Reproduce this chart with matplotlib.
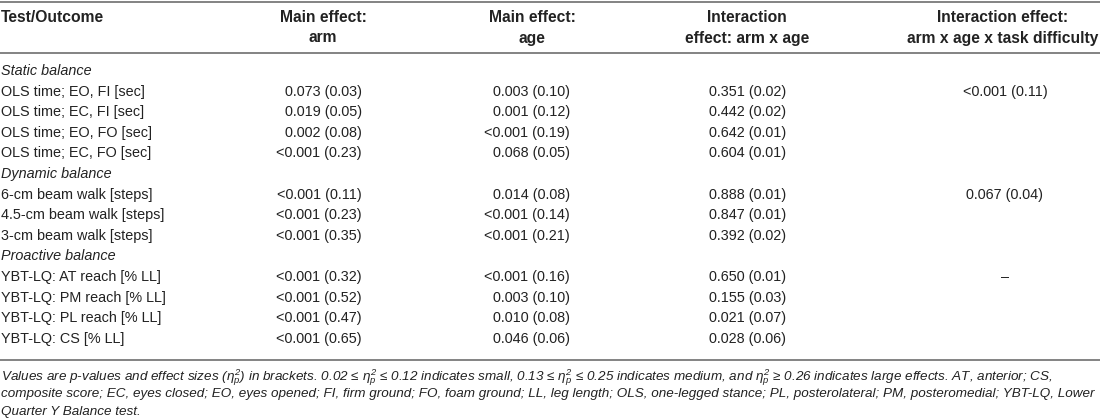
import matplotlib
matplotlib.use("Agg")
import matplotlib.pyplot as plt

plt.rcParams['font.family'] = ['Liberation Sans', 'DejaVu Sans']
plt.rcParams['mathtext.fontset'] = 'custom'
plt.rcParams['mathtext.it'] = 'Liberation Sans:italic'
plt.rcParams['mathtext.rm'] = 'Liberation Sans:italic'

# ---------------- data ----------------
headers = ["Test/Outcome", "Main effect:\narm", "Main effect:\nage",
           "Interaction\neffect: arm x age", "Interaction effect:\narm x age x task difficulty"]

sections = ["Static balance", "Dynamic balance", "Proactive balance"]
section_rows = [
    ["OLS time; EO, FI [sec]", "OLS time; EC, FI [sec]", "OLS time; EO, FO [sec]", "OLS time; EC, FO [sec]"],
    ["6-cm beam walk [steps]", "4.5-cm beam walk [steps]", "3-cm beam walk [steps]"],
    ["YBT-LQ: AT reach [% LL]", "YBT-LQ: PM reach [% LL]", "YBT-LQ: PL reach [% LL]", "YBT-LQ: CS [% LL]"],
]
arm = [["0.073 (0.03)", "0.019 (0.05)", "0.002 (0.08)", "<0.001 (0.23)"],
       ["<0.001 (0.11)", "<0.001 (0.23)", "<0.001 (0.35)"],
       ["<0.001 (0.32)", "<0.001 (0.52)", "<0.001 (0.47)", "<0.001 (0.65)"]]
age = [["0.003 (0.10)", "0.001 (0.12)", "<0.001 (0.19)", "0.068 (0.05)"],
       ["0.014 (0.08)", "<0.001 (0.14)", "<0.001 (0.21)"],
       ["<0.001 (0.16)", "0.003 (0.10)", "0.010 (0.08)", "0.046 (0.06)"]]
arm_age = [["0.351 (0.02)", "0.442 (0.02)", "0.642 (0.01)", "0.604 (0.01)"],
           ["0.888 (0.01)", "0.847 (0.01)", "0.392 (0.02)"],
           ["0.650 (0.01)", "0.155 (0.03)", "0.021 (0.07)", "0.028 (0.06)"]]
arm_age_task = [["<0.001 (0.11)", "", "", ""],
                ["0.067 (0.04)", "", ""],
                ["\u2013", "", "", ""]]

eta = r"$\eta_p^2$"
footnote = [
    "Values are p-values and effect sizes (" + eta + ") in brackets. 0.02 \u2264 " + eta + " \u2264 0.12 indicates small, 0.13 \u2264 "
    + eta + " \u2264 0.25 indicates medium, and " + eta + " \u2265 0.26 indicates large effects. AT, anterior; CS,",
    "composite score; EC, eyes closed; EO, eyes opened; FI, firm ground; FO, foam ground; LL, leg length; OLS, one-legged stance; PL, posterolateral; PM, posteromedial; YBT-LQ, Lower",
    "Quarter Y Balance test.",
]

# ---------------- layout ----------------
W, H = 1100, 418
fig = plt.figure(figsize=(W / 100, H / 100), dpi=100)
ax = fig.add_axes([0, 0, 1, 1])
ax.set_xlim(0, W)
ax.set_ylim(H, 0)
ax.axis('off')
fig.canvas.draw()
renderer = fig.canvas.get_renderer()


def fit(txt, target, **kw):
    t = ax.text(0, 0, txt, fontsize=10, **kw)
    w = t.get_window_extent(renderer).width
    t.remove()
    return 10 * target / w


fs_body = fit("OLS time; EC, FO [sec]", 150)
fs_head = fit("arm x age x task difficulty", 191, fontweight='bold')
fs_foot = min(fit(footnote[0], 1094, fontstyle='italic'),
              fit(footnote[1], 1094, fontstyle='italic'))

text_col = '#222222'
rule_col = '#6e6e6e'

# rules
for y in (1.5, 53, 360):
    ax.plot([0, W], [y, y], color=rule_col, lw=1.2, solid_capstyle='butt')

# header
head_x = [1, 323, 532, 747, 1003]
head_ha = ['left', 'center', 'center', 'center', 'center']
for x, ha, h in zip(head_x, head_ha, headers):
    lines = h.split("\n")
    for k, ln in enumerate(lines):
        ax.text(x, 18 + 20 * k, ln, ha=ha, va='center', fontsize=fs_head,
                fontweight='bold', color=text_col)

# body
y0, dy = 71, 20.6
col_x = [362, 570, 786, 1005]
col_ha = ['right', 'right', 'right', 'center']
r = 0
for s, name in enumerate(sections):
    ax.text(1, y0 + r * dy, name, ha='left', va='center', fontsize=fs_body,
            fontstyle='italic', color=text_col)
    r += 1
    for i, lab in enumerate(section_rows[s]):
        y = y0 + r * dy
        ax.text(1, y, lab, ha='left', va='center', fontsize=fs_body, color=text_col)
        for cx, ha, col in zip(col_x, col_ha, (arm, age, arm_age, arm_age_task)):
            if col[s][i]:
                ax.text(cx, y, col[s][i], ha=ha, va='center', fontsize=fs_body, color=text_col)
        r += 1

# footnote
for k, ln in enumerate(footnote):
    ax.text(1, 380 + 17.5 * k, ln, ha='left', va='baseline', fontsize=fs_foot,
            fontstyle='italic', color=text_col)

fig.savefig("out.png", dpi=100, facecolor='white')
